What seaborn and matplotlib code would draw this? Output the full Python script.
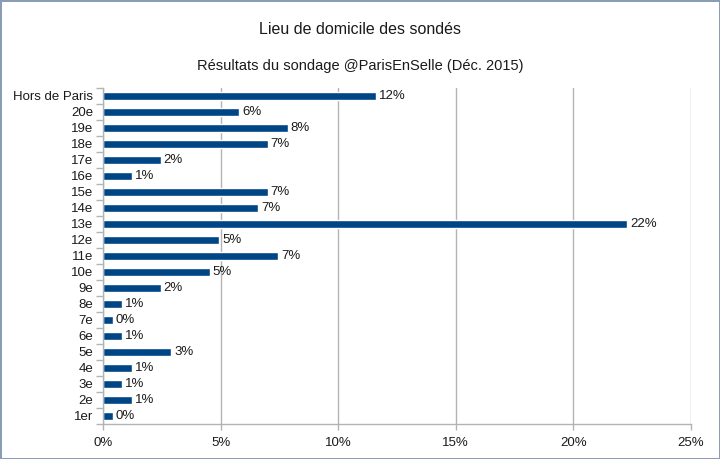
import pandas as pd
import matplotlib
matplotlib.use("Agg")
import matplotlib.pyplot as plt
import seaborn as sns
from matplotlib.ticker import PercentFormatter, FixedLocator, NullLocator

# data (share of respondents, top to bottom)
lieux = ["Hors de Paris", "20e", "19e", "18e", "17e", "16e", "15e", "14e", "13e",
         "12e", "11e", "10e", "9e", "8e", "7e", "6e", "5e", "4e", "3e", "2e", "1er"]
parts = [11.6, 5.8, 7.85, 7.0, 2.45, 1.25, 7.0, 6.6, 22.3,
         4.95, 7.45, 4.55, 2.45, 0.82, 0.41, 0.82, 2.9, 1.25, 0.82, 1.25, 0.41]
etiquettes = [f"{round(p):.0f}%" for p in parts]

df = pd.DataFrame({"lieu": lieux, "part": parts})

sns.set_theme(style="white")
plt.rcParams["font.family"] = ["Liberation Sans", "DejaVu Sans"]

fig = plt.figure(figsize=(7.2, 4.59), dpi=100)
fig.patch.set_edgecolor("#8a9db5")
fig.patch.set_linewidth(2)
ax = fig.add_axes([103/720, 35/459, 588/720, 336/459])

sns.barplot(data=df, x="part", y="lieu", order=lieux, orient="h",
            color="#004586", saturation=1, width=0.47, ax=ax)

ax.bar_label(ax.containers[0], labels=etiquettes, padding=2,
             fontsize=9.5, color="#1a1a1a")

ax.set_xlim(0, 25)
ax.set_ylim(20.5, -0.5)
ax.set_xticks([0, 5, 10, 15, 20, 25])
ax.xaxis.set_major_formatter(PercentFormatter(decimals=0))
ax.grid(axis="x", color="#b3b3b3", linewidth=1)
ax.set_axisbelow(True)
ax.set_xlabel("")
ax.set_ylabel("")

for s in ["top", "right"]:
    ax.spines[s].set_visible(False)
for s in ["left", "bottom"]:
    ax.spines[s].set_color("#b3b3b3")
    ax.spines[s].set_linewidth(1)

# ticks on the category boundaries, like the original
ax.yaxis.set_minor_locator(FixedLocator([i - 0.5 for i in range(len(lieux) + 1)]))
ax.tick_params(axis="y", which="major", length=0, pad=7, labelsize=9.5, labelcolor="#1a1a1a")
ax.tick_params(axis="y", which="minor", length=5, color="#b3b3b3", width=1, left=True)
ax.tick_params(axis="x", which="major", length=4, color="#b3b3b3", width=1, bottom=True,
               pad=5, labelsize=9.5, labelcolor="#1a1a1a")

fig.text(0.5, 1 - 30/459, "Lieu de domicile des sondés", ha="center", va="center",
         fontsize=11.5, color="#1a1a1a")
fig.text(0.5, 1 - 66/459, "Résultats du sondage @ParisEnSelle (Déc. 2015)", ha="center",
         va="center", fontsize=10.5, color="#1a1a1a")

fig.savefig("out.png", dpi=100, edgecolor=fig.get_edgecolor())
